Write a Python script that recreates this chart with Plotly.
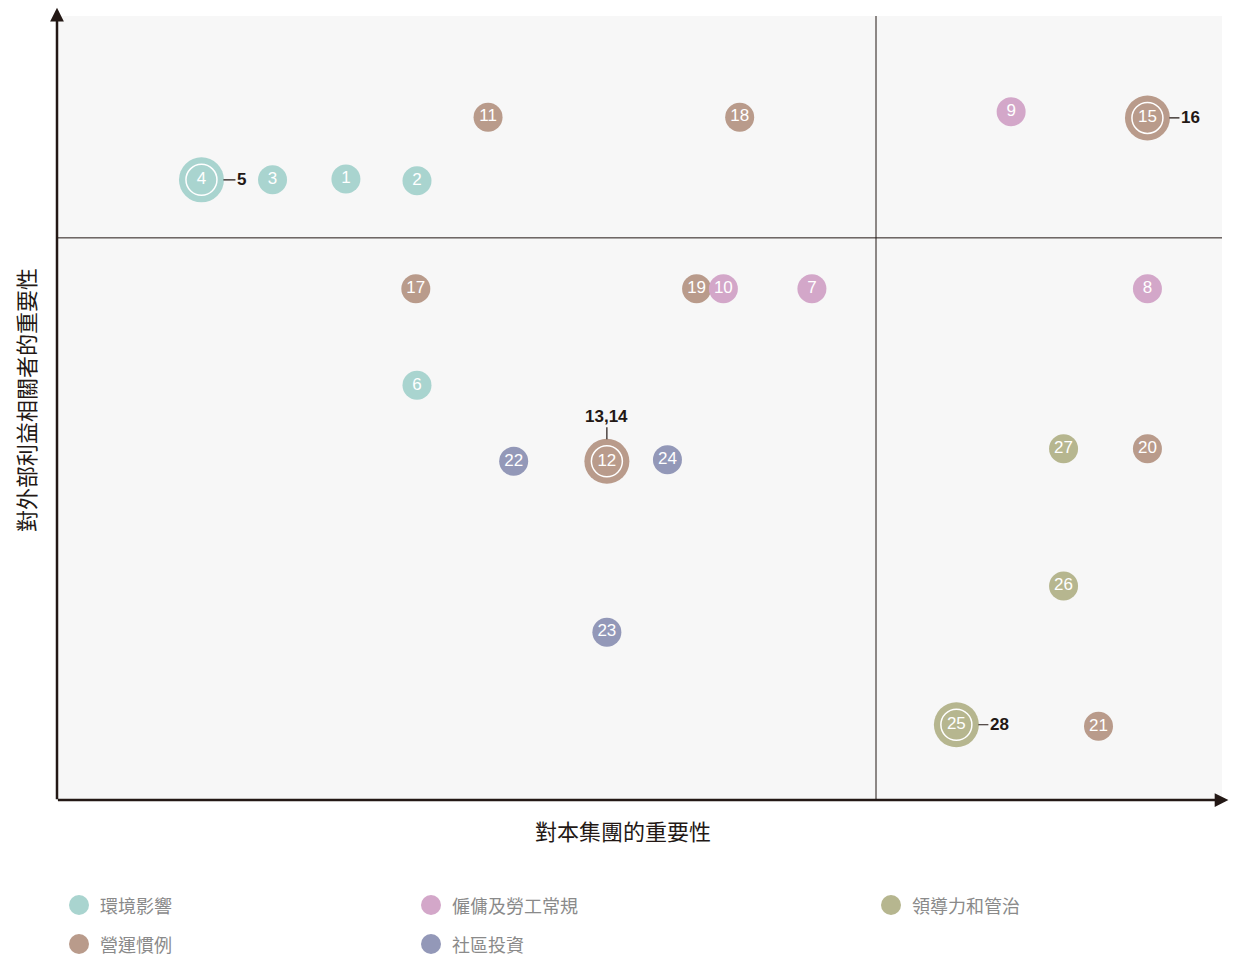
import plotly.graph_objects as go

# ---------------- data ----------------
category_names = ["環境影響", "營運慣例", "僱傭及勞工常規", "社區投資", "領導力和管治"]
category_colors = ["#a9d4cf", "#b99b8b", "#d3a7c9", "#9398b8", "#b6b68f"]

# issue number, importance to group (x, 0-100), importance to stakeholders (y, 0-100), category index
issue_ids = [1, 2, 3, 4, 6,
             11, 12, 15, 17, 18, 19, 20, 21,
             7, 8, 9, 10,
             22, 23, 24,
             25, 26, 27]
x_group = [24.8, 30.9, 18.5, 12.4, 30.9,
           37.0, 47.2, 93.6, 30.8, 58.6, 54.9, 93.6, 89.4,
           64.8, 93.6, 81.9, 57.2,
           39.2, 47.2, 52.4,
           77.2, 86.4, 86.4]
y_stake = [79.2, 79.0, 79.1, 79.1, 52.9,
           87.1, 43.2, 87.0, 65.2, 87.1, 65.2, 44.8, 9.4,
           65.2, 65.2, 87.8, 65.2,
           43.2, 21.4, 43.4,
           9.6, 27.3, 44.8]
issue_cat = [0, 0, 0, 0, 0,
             1, 1, 1, 1, 1, 1, 1, 1,
             2, 2, 2, 2,
             3, 3, 3,
             4, 4, 4]

# issues that share a position with another issue (drawn as a bigger double circle)
merged_host = [4, 15, 12, 25]
merged_label = ["5", "16", "13,14", "28"]
merged_dir = ["right", "right", "up", "right"]

x_divider = 70.3
y_divider = 71.7

x_title = "對本集團的重要性"
y_title = "對外部利益相關者的重要性"

# ---------------- figure ----------------
NUM_FONT = "Liberation Sans, Arial, sans-serif"
CJK_FONT = "Noto Sans CJK TC, Noto Sans CJK SC, sans-serif"
DARK = "#231815"

fig = go.Figure()

for ci, cname in enumerate(category_names):
    idx = [i for i, c in enumerate(issue_cat) if c == ci]
    xs = [x_group[i] for i in idx]
    ys = [y_stake[i] for i in idx]
    ids = [issue_ids[i] for i in idx]
    sizes = [45 if n in merged_host else 29 for n in ids]
    fig.add_trace(go.Scatter(
        x=xs, y=ys, mode="markers+text", name=cname,
        text=[str(n) for n in ids], textposition="middle center",
        textfont=dict(family=NUM_FONT, size=17, color="white"),
        marker=dict(size=sizes, color=category_colors[ci], line=dict(width=0), opacity=1),
        showlegend=False, hoverinfo="skip", cliponaxis=False,
    ))
    # inner white ring for merged issues
    big = [i for i in idx if issue_ids[i] in merged_host]
    if big:
        fig.add_trace(go.Scatter(
            x=[x_group[i] for i in big], y=[y_stake[i] for i in big], mode="markers",
            marker=dict(size=31, color="rgba(0,0,0,0)", line=dict(width=1.5, color="white")),
            showlegend=False, hoverinfo="skip", cliponaxis=False,
        ))

annotations = []
for host, lab, d in zip(merged_host, merged_label, merged_dir):
    i = issue_ids.index(host)
    if d == "right":
        ax, ay, sd = 40 + 3 * (len(lab) - 1), 0, 22
    else:
        ax, ay, sd = 0, -45, 22
    annotations.append(dict(
        x=x_group[i], y=y_stake[i], xref="x", yref="y", text="<b>%s</b>" % lab,
        showarrow=True, arrowhead=0, arrowwidth=1.2, arrowcolor=DARK, ax=ax, ay=ay,
        standoff=sd, font=dict(family=NUM_FONT, size=17, color=DARK),
    ))

# axis arrows
annotations.append(dict(x=0, y=1.0105, xref="paper", yref="paper", ax=0, ay=793, text="",
                        showarrow=True, arrowhead=2, arrowsize=1.1, arrowwidth=2.5, arrowcolor=DARK))
annotations.append(dict(x=1.0055, y=0, xref="paper", yref="paper", ax=-1172, ay=0, text="",
                        showarrow=True, arrowhead=2, arrowsize=1.1, arrowwidth=2.5, arrowcolor=DARK))

# axis titles
annotations.append(dict(x=0.4858, y=-0.0383, xref="paper", yref="paper", text=x_title, showarrow=False,
                        font=dict(family=CJK_FONT, size=22, color=DARK), xanchor="center", yanchor="middle"))
annotations.append(dict(x=-0.0275, y=0.51, xref="paper", yref="paper", text=y_title, showarrow=False,
                        textangle=-90, font=dict(family=CJK_FONT, size=22, color=DARK),
                        xanchor="center", yanchor="middle"))

# custom legend
legend_pos = [(79, 905), (79, 944), (431, 905), (431, 944), (891, 905)]
shapes = []
for (px, py), cname, col in zip(legend_pos, category_names, category_colors):
    cx = (px - 57) / 1165.0
    cy = (800 - py) / 784.0
    r = 10
    shapes.append(dict(type="circle", xref="paper", yref="paper",
                       x0=cx - r / 1165.0, x1=cx + r / 1165.0, y0=cy - r / 784.0, y1=cy + r / 784.0,
                       fillcolor=col, line=dict(width=0)))
    annotations.append(dict(x=cx + 19 / 1165.0, y=cy, xref="paper", yref="paper", text=cname,
                            showarrow=False, xanchor="left", yanchor="middle",
                            font=dict(family=CJK_FONT, size=18, color="#8a8a8a")))

# quadrant dividers
shapes.append(dict(type="line", xref="x", yref="paper", x0=x_divider, x1=x_divider, y0=0, y1=1,
                   line=dict(color=DARK, width=1)))
shapes.append(dict(type="line", xref="paper", yref="y", x0=0, x1=1, y0=y_divider, y1=y_divider,
                   line=dict(color=DARK, width=1)))

fig.update_layout(
    width=1239, height=959,
    margin=dict(l=57, r=17, t=16, b=159),
    plot_bgcolor="#f7f7f7", paper_bgcolor="white",
    xaxis=dict(range=[0, 100], showgrid=False, zeroline=False, showticklabels=False, showline=False, fixedrange=True),
    yaxis=dict(range=[0, 100], showgrid=False, zeroline=False, showticklabels=False, showline=False, fixedrange=True),
    shapes=shapes, annotations=annotations,
)

fig.write_html("out.html", config={"displayModeBar": False},
               post_script="document.body.style.margin='0';document.body.style.overflow='hidden';")
